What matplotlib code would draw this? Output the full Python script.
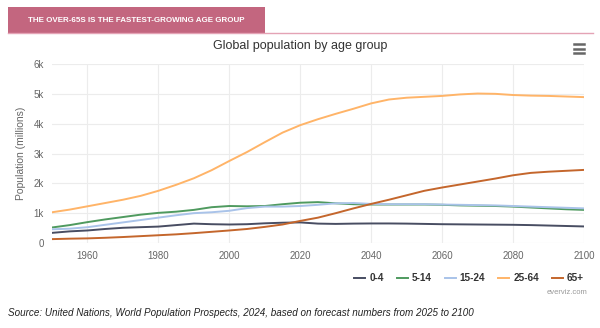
import matplotlib.pyplot as plt
import matplotlib.patches as patches
from matplotlib.lines import Line2D

plt.rcParams['font.family'] = ['Liberation Sans', 'DejaVu Sans']

# data (millions), every 5 years
years = list(range(1950, 2101, 5))
age_0_4 = [340, 390, 420, 470, 510, 530, 550, 600, 650, 630, 620, 630, 660, 680, 690,
           650, 640, 650, 655, 655, 650, 640, 630, 625, 620, 615, 610, 600, 585, 570, 555]
age_5_14 = [520, 600, 700, 790, 870, 950, 1010, 1050, 1110, 1200, 1240, 1230, 1240, 1300, 1350,
            1370, 1330, 1300, 1290, 1290, 1290, 1290, 1280, 1260, 1250, 1240, 1220, 1190, 1160, 1130, 1110]
age_15_24 = [460, 480, 530, 610, 690, 770, 850, 930, 1000, 1030, 1080, 1170, 1220, 1220, 1240,
             1280, 1330, 1340, 1310, 1300, 1300, 1300, 1290, 1280, 1270, 1260, 1240, 1220, 1200, 1180, 1160]
age_25_64 = [1030, 1120, 1230, 1340, 1450, 1580, 1750, 1950, 2170, 2440, 2750, 3050, 3380, 3700, 3950,
             4150, 4330, 4500, 4680, 4810, 4870, 4900, 4930, 4980, 5010, 5000, 4960, 4940, 4930, 4910, 4890]
age_65 = [130, 145, 155, 175, 200, 230, 260, 290, 330, 375, 420, 470, 540, 620, 740,
          850, 1000, 1160, 1310, 1450, 1600, 1750, 1860, 1960, 2060, 2160, 2270, 2350, 2390, 2420, 2450]

series_names = ['0-4', '5-14', '15-24', '25-64', '65+']
series_values = [age_0_4, age_5_14, age_15_24, age_25_64, age_65]
series_colors = ['#484d62', '#4f9a5f', '#a9c3e9', '#ffb468', '#c4662c']

y_ticks = [0, 1000, 2000, 3000, 4000, 5000, 6000]
y_labels = ['0', '1k', '2k', '3k', '4k', '5k', '6k']
x_ticks = [1960, 1980, 2000, 2020, 2040, 2060, 2080, 2100]

fig = plt.figure(figsize=(6, 3.28), dpi=100)
fig.patch.set_facecolor('white')

# header band
fig.patches.append(patches.Rectangle((8/600, 1 - 33/328), 257/600, 26/328, transform=fig.transFigure,
                                     facecolor='#c3667f', edgecolor='none'))
fig.add_artist(Line2D([8/600, 593/600], [1 - 33/328, 1 - 33/328], transform=fig.transFigure,
                      color='#e4a3b5', linewidth=1.0))
fig.text(136/600, 1 - 20.5/328, 'THE OVER-65S IS THE FASTEST-GROWING AGE GROUP', color='white',
         fontsize=5.8, fontweight='bold', ha='center', va='center')

fig.text(300/600, 1 - 46/328, 'Global population by age group', fontsize=9, color='#333333',
         ha='center', va='center')

# menu icon
for dy in (44, 48.5, 53):
    fig.add_artist(Line2D([574/600, 584/600], [1 - dy/328, 1 - dy/328], transform=fig.transFigure,
                          color='#666666', linewidth=1.8))

ax = fig.add_axes([52/600, 85/328, 532/600, 179/328])
for name, vals, col in zip(series_names, series_values, series_colors):
    ax.plot(years, vals, color=col, linewidth=1.4, label=name)

ax.set_xlim(1950, 2100)
ax.set_ylim(0, 6000)
ax.set_yticks(y_ticks)
ax.set_yticklabels(y_labels)
ax.set_xticks(x_ticks)
ax.tick_params(length=0, labelsize=7, colors='#666666', pad=6)
ax.grid(True, color='#ececec', linewidth=0.8)
ax.set_axisbelow(True)
for s in ax.spines.values():
    s.set_visible(False)
ax.set_ylabel('Population (millions)', fontsize=7.5, color='#666666', labelpad=5)

handles = [Line2D([0], [0], color=c, linewidth=1.4) for c in series_colors]
leg = fig.legend(handles, series_names, loc='center right', bbox_to_anchor=(584/600, 1 - 278/328),
                 ncol=5, frameon=False, handlelength=1.1, handletextpad=0.4,
                 columnspacing=1.3, borderaxespad=0, borderpad=0,
                 prop={'weight': 'bold', 'size': 7.2})
for t in leg.get_texts():
    t.set_color('#333333')

fig.text(587/600, 1 - 292/328, 'everviz.com', fontsize=5.5, color='#999999', ha='right', va='center')
fig.text(8/600, 1 - 313/328,
         'Source: United Nations, World Population Prospects, 2024, based on forecast numbers from 2025 to 2100',
         fontsize=7.1, style='italic', color='#222222', ha='left', va='center')

fig.savefig('out.png', dpi=100)
